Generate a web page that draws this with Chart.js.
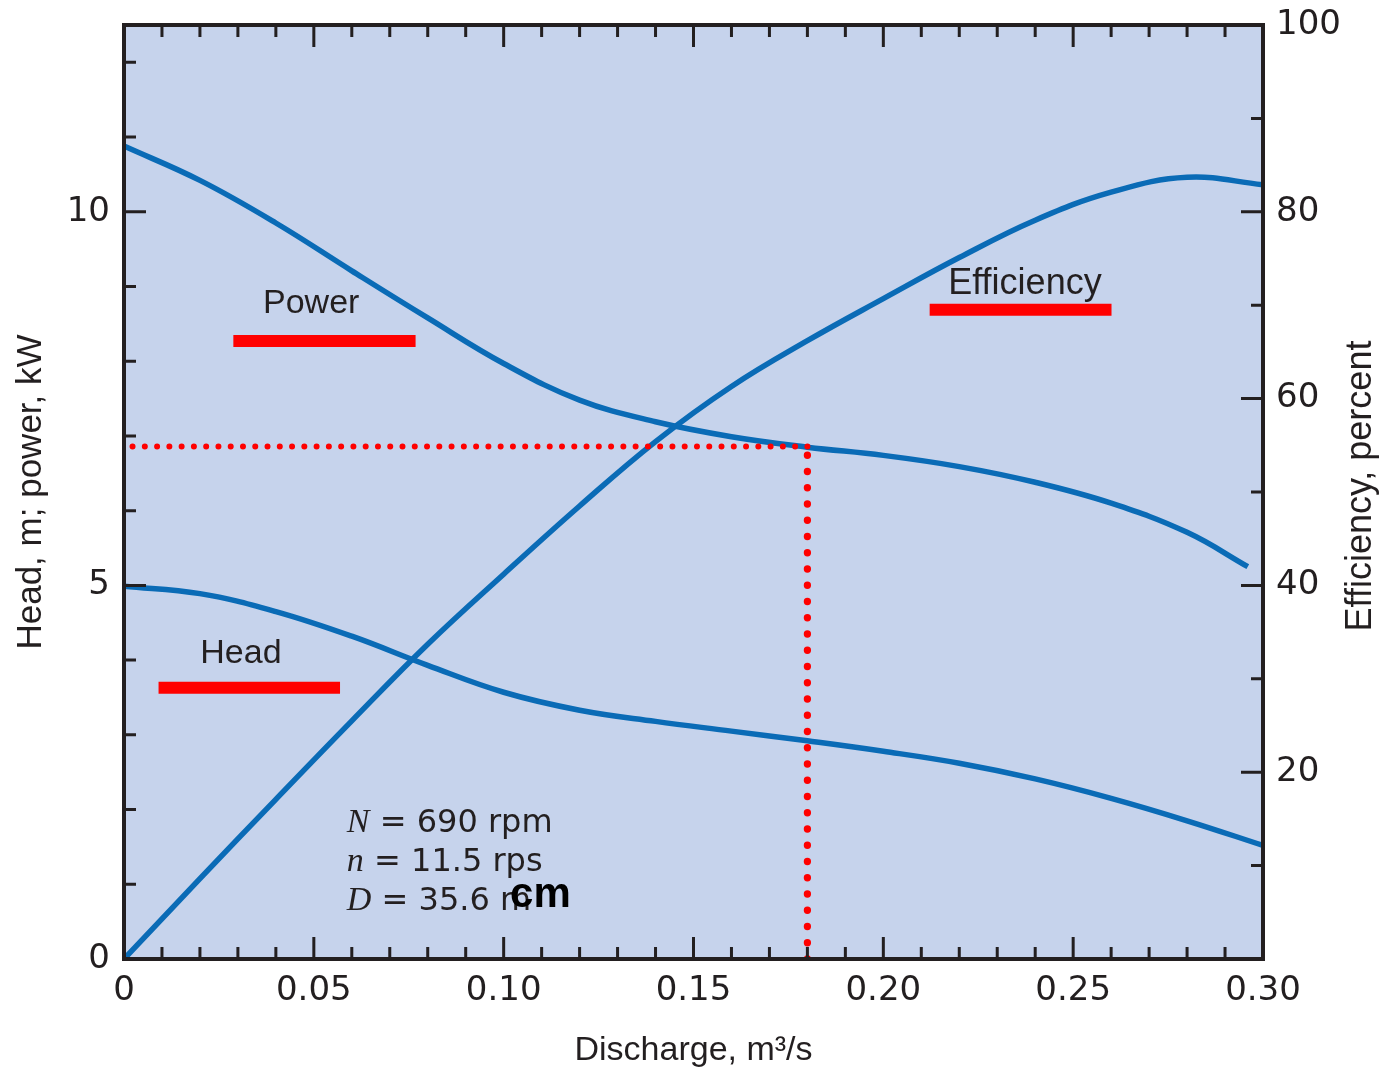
<!DOCTYPE html>
<html><head><meta charset="utf-8">
<script src="https://cdn.jsdelivr.net/npm/chart.js@4.4.1/dist/chart.umd.min.js"></script>
<style>html,body{margin:0;padding:0;background:#fff;}canvas{display:block;}</style>
</head><body>
<canvas id="c" width="1398" height="1075"></canvas>
<script>
// ---------- data ----------
const discharge = [0,0.02,0.04,0.06,0.08,0.10,0.12,0.14,0.16,0.18,0.20,0.22,0.24,0.26,0.28,0.30];
const headM = [4.99,4.89,4.65,4.32,3.93,3.57,3.33,3.18,3.05,2.92,2.78,2.62,2.41,2.15,1.85,1.52];
const efficiencyPct = [0,8.6,17.1,25.5,33.7,41.2,48.5,55.4,61.3,66.2,70.7,75.1,79.1,82.1,83.7,82.9];
const powerQ = [0,0.02,0.04,0.06,0.08,0.10,0.12,0.14,0.16,0.18,0.20,0.22,0.24,0.26,0.28,0.296];
const powerKW = [10.88,10.42,9.85,9.21,8.58,7.97,7.48,7.19,6.99,6.85,6.74,6.59,6.38,6.10,5.71,5.25];
const xTickValues = [0,0.05,0.10,0.15,0.20,0.25,0.30];
const xTickLabels = ['0','0.05','0.10','0.15','0.20','0.25','0.30'];
const leftTickValues = [0,5,10];
const leftTickLabels = ['0','5','10'];
const rightTickValues = [20,40,60,80,100];
const rightTickLabels = ['20','40','60','80','100'];
const opQ = 0.18, opPower = 6.86;              // operating point
const powerKeyQ = [0.0288,0.0768], powerKeyY = 8.27;
const headKeyQ = [0.0091,0.0569], headKeyY = 3.63;
const effKeyQ = [0.2122,0.2601], effKeyY = 8.69;
const curveLabels = ['Power','Head','Efficiency'];
const speedLines = [['N',' = 690 rpm'],['n',' = 11.5 rps'],['D',' = 35.6 m']];
const overlayText = 'cm';

// ---------- style / placement ----------
const BG = '#c6d3ec', CURVE = '#0a6bb6', RED = '#ff0000', INK = '#231f20';
const labelPos = [{q:0.0493,v:8.64,size:34},{q:0.0308,v:3.96,size:34},{q:0.2373,v:8.90,size:36}];
const speedPos = {q:0.0587, v:1.704, lineGap:39.3};
const overlayPos = {q:0.1017, v:0.70};

const xy = (xs, ys) => xs.map((x,i)=>({x, y: Array.isArray(ys)? ys[i] : ys}));
const curve = (data, axis) => ({data, yAxisID:axis, borderColor:CURVE, borderWidth:5.5, tension:0.4, pointRadius:0, fill:false});
const keyBar = (qs, y) => ({data: xy(qs, y), yAxisID:'y', borderColor:RED, borderWidth:12, borderCapStyle:'butt', pointRadius:0});

const datasets = [
  {data:[{x:opQ,y:opPower},{x:0,y:opPower}], yAxisID:'y', borderColor:RED, borderWidth:6, borderDash:[0,12.27], borderCapStyle:'round', pointRadius:0},
  {data:[{x:opQ,y:0},{x:opQ,y:opPower}], yAxisID:'y', borderColor:RED, borderWidth:7.3, borderDash:[0,16.25], borderCapStyle:'round', pointRadius:0},
  keyBar(powerKeyQ, powerKeyY),
  keyBar(headKeyQ, headKeyY),
  keyBar(effKeyQ, effKeyY),
  curve(xy(powerQ, powerKW), 'y'),
  curve(xy(discharge, headM), 'y'),
  curve(xy(discharge, efficiencyPct), 'y2')
];

const decor = {
  id:'decor',
  beforeDraw(chart){
    const {ctx, chartArea:a} = chart;
    ctx.save(); ctx.fillStyle = BG; ctx.fillRect(a.left, a.top, a.right-a.left, a.bottom-a.top); ctx.restore();
  },
  afterDatasetsDraw(chart){
    const {ctx} = chart; const sx = chart.scales.x, sy = chart.scales.y;
    ctx.save();
    ctx.fillStyle = INK; ctx.textBaseline = 'alphabetic'; ctx.textAlign = 'center';
    curveLabels.forEach((t,i)=>{
      const p = labelPos[i];
      ctx.font = p.size + 'px "Liberation Sans"';
      ctx.fillText(t, sx.getPixelForValue(p.q), sy.getPixelForValue(p.v));
    });
    ctx.textAlign = 'left';
    const x0 = sx.getPixelForValue(speedPos.q), y0 = sy.getPixelForValue(speedPos.v);
    speedLines.forEach((ln,i)=>{
      let x = x0; const y = y0 + i*speedPos.lineGap;
      ctx.font = 'italic 34px "Liberation Serif"';
      ctx.fillText(ln[0], x, y); x += ctx.measureText(ln[0]).width;
      ctx.font = '32px "DejaVu Sans"';
      ctx.fillText(ln[1], x, y);
    });
    ctx.fillStyle = '#000'; ctx.font = 'bold 42px "Liberation Sans"';
    ctx.fillText(overlayText, sx.getPixelForValue(overlayPos.q), sy.getPixelForValue(overlayPos.v));
    ctx.restore();
  },
  afterDraw(chart){
    const {ctx, chartArea:a} = chart; const sx = chart.scales.x, sy = chart.scales.y, sy2 = chart.scales.y2;
    ctx.save();
    ctx.strokeStyle = INK; ctx.lineWidth = 3; ctx.lineCap = 'butt';
    ctx.beginPath();
    for (let k=1;k<30;k++){ const v=k/100; const px=sx.getPixelForValue(v); const L=(k%5===0)?22:12;
      ctx.moveTo(px,a.top); ctx.lineTo(px,a.top+L); ctx.moveTo(px,a.bottom); ctx.lineTo(px,a.bottom-L); }
    for (let k=1;k<=12;k++){ const py=sy.getPixelForValue(k); const L=(k%5===0)?22:12;
      ctx.moveTo(a.left,py); ctx.lineTo(a.left+L,py); }
    for (let k=10;k<100;k+=10){ const py=sy2.getPixelForValue(k); const L=(k%20===0)?22:12;
      ctx.moveTo(a.right,py); ctx.lineTo(a.right-L,py); }
    ctx.stroke();
    ctx.lineWidth = 4; ctx.lineJoin = 'miter';
    ctx.strokeRect(a.left, a.top, a.right-a.left, a.bottom-a.top);
    // right axis title (reads bottom-to-top)
    ctx.fillStyle = INK; ctx.font = '36px "Liberation Sans"'; ctx.textAlign='center'; ctx.textBaseline='middle';
    ctx.translate(a.right+98, (a.top+a.bottom)/2 - 6); ctx.rotate(-Math.PI/2);
    ctx.fillText('Efficiency, percent', 0, 0);
    ctx.restore();
  }
};

const tickFont = {family:'DejaVu Sans', size:34};
const fitV = w => s => { s.width = w; s.paddingTop = 0; s.paddingBottom = 0; };
new Chart(document.getElementById('c'), {
  type:'line',
  data:{datasets},
  plugins:[decor],
  options:{
    responsive:false, animation:false, devicePixelRatio:1,
    layout:{padding:{top:25,left:0,right:0,bottom:0}},
    plugins:{legend:{display:false}, tooltip:{enabled:false}},
    scales:{
      x:{type:'linear', position:'bottom', min:0, max:0.3,
        afterBuildTicks:s=>{ s.ticks = xTickValues.map(v=>({value:v})); },
        afterFit:s=>{ s.height = 116; s.paddingLeft = 0; s.paddingRight = 0; },
        ticks:{autoSkip:false, maxRotation:0, minRotation:0, padding:12, color:INK, font:tickFont, callback:(v,i)=>xTickLabels[i]},
        grid:{display:false, drawTicks:false}, border:{display:false},
        title:{display:true, text:'Discharge, m³/s', color:INK, font:{family:'Liberation Sans', size:34}, padding:{top:0,bottom:4}}
      },
      y:{type:'linear', position:'left', min:0, max:12.5,
        afterBuildTicks:s=>{ s.ticks = leftTickValues.map(v=>({value:v})); },
        afterFit:fitV(124),
        ticks:{autoSkip:false, padding:14, color:INK, font:tickFont, callback:(v,i)=>leftTickLabels[i]},
        grid:{display:false, drawTicks:false}, border:{display:false},
        title:{display:true, text:'Head, m; power, kW', color:INK, font:{family:'Liberation Sans', size:35}, padding:{top:10,bottom:0}}
      },
      y2:{type:'linear', position:'right', min:0, max:100,
        afterBuildTicks:s=>{ s.ticks = rightTickValues.map(v=>({value:v})); },
        afterFit:fitV(135),
        ticks:{autoSkip:false, padding:13, color:INK, font:tickFont, callback:(v,i)=>rightTickLabels[i]},
        grid:{display:false, drawTicks:false}, border:{display:false},
        title:{display:false}
      }
    }
  }
});
</script>
</body></html>
